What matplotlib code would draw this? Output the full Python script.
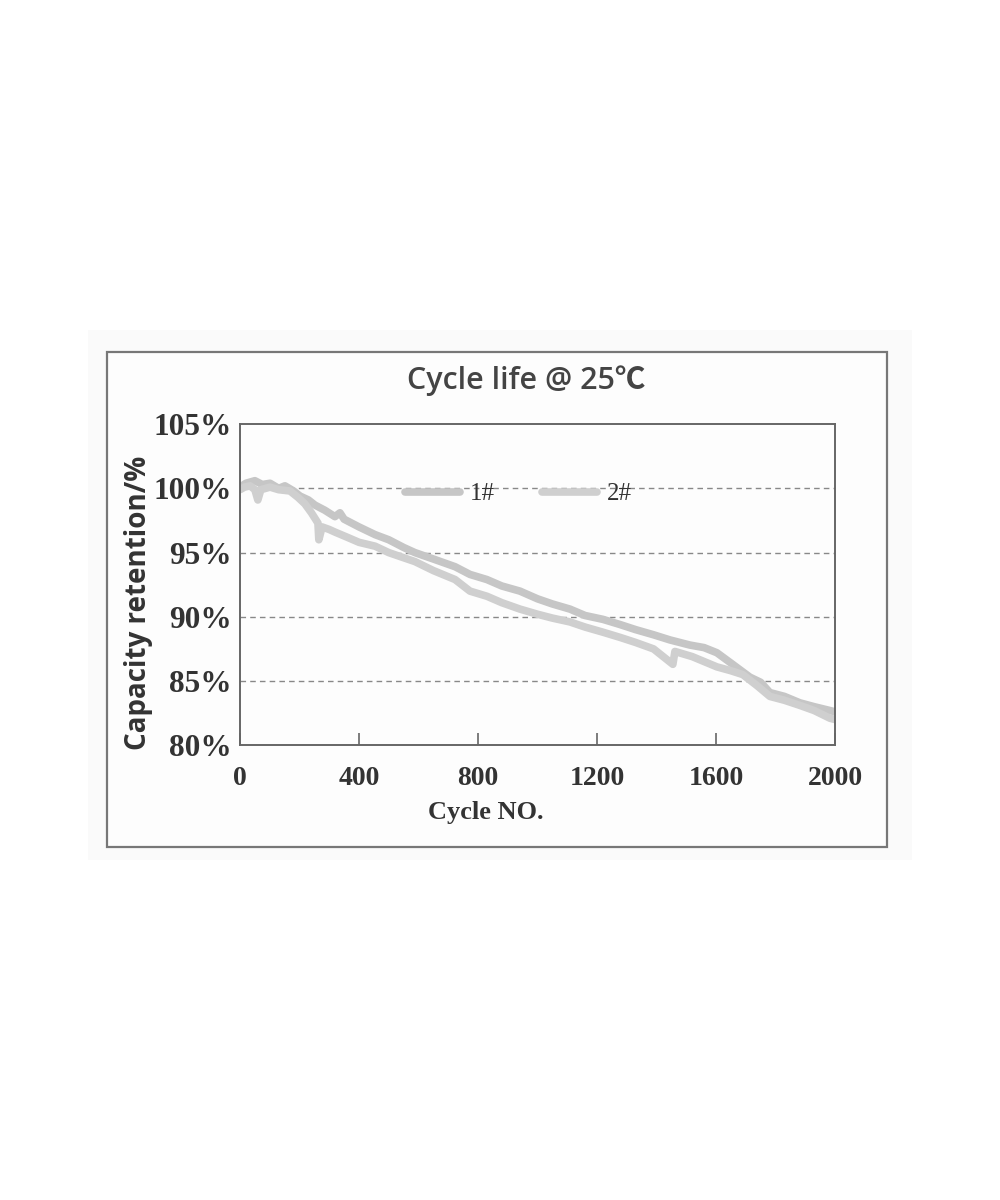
import matplotlib
matplotlib.use("Agg")
import matplotlib.pyplot as plt
from matplotlib.patches import Rectangle

# cycle life data
cycles_1 = [0, 20, 50, 75, 101, 130, 151, 180, 202, 230, 252, 285, 319, 336, 350,
            400, 454, 500, 550, 588, 650, 723, 773, 830, 880, 941, 1000, 1050,
            1109, 1160, 1220, 1277, 1330, 1390, 1445, 1512, 1560, 1603, 1650,
            1714, 1750, 1781, 1830, 1882, 1930, 1983, 2000]
retention_1 = [100.1, 100.4, 100.6, 100.3, 100.4, 100.0, 100.2, 99.8, 99.4, 99.1,
               98.7, 98.3, 97.8, 98.1, 97.6, 97.0, 96.4, 96.0, 95.4, 95.0, 94.5,
               93.9, 93.3, 92.9, 92.4, 92.0, 91.4, 91.0, 90.6, 90.1, 89.8, 89.4,
               89.0, 88.6, 88.2, 87.8, 87.6, 87.2, 86.4, 85.3, 84.9, 84.1, 83.8,
               83.3, 83.0, 82.7, 82.6]

cycles_2 = [0, 15, 34, 50, 60, 70, 101, 130, 168, 195, 218, 240, 262, 265, 276,
            300, 319, 360, 400, 454, 500, 550, 588, 650, 723, 773, 830, 880,
            941, 1000, 1050, 1109, 1160, 1220, 1277, 1330, 1390, 1455, 1462,
            1520, 1603, 1650, 1690, 1740, 1781, 1830, 1882, 1930, 1983, 2000]
retention_2 = [99.9, 100.1, 100.2, 99.9, 99.1, 99.9, 100.1, 99.9, 99.8, 99.3,
               98.8, 98.1, 97.3, 96.0, 97.0, 96.8, 96.6, 96.2, 95.8, 95.5, 95.0,
               94.6, 94.3, 93.6, 92.9, 92.0, 91.6, 91.1, 90.6, 90.2, 89.9, 89.6,
               89.2, 88.8, 88.4, 88.0, 87.5, 86.3, 87.3, 86.9, 86.1, 85.8, 85.5,
               84.6, 83.8, 83.5, 83.1, 82.7, 82.1, 82.0]

x_ticks = [0, 400, 800, 1200, 1600, 2000]
y_ticks = [80, 85, 90, 95, 100, 105]
y_labels = ["80%", "85%", "90%", "95%", "100%", "105%"]

serif = "Liberation Serif"
fig = plt.figure(figsize=(10, 12), dpi=100)
fig.patch.set_facecolor("white")

# faint scan backdrop and outer chart frame
fig.patches.append(Rectangle((0.088, 0.283), 0.824, 0.442, transform=fig.transFigure,
                             facecolor="#fafafa", edgecolor="none", zorder=0))
fig.patches.append(Rectangle((0.107, 0.294), 0.780, 0.413, transform=fig.transFigure,
                             facecolor="#fdfdfd", edgecolor="#777777", linewidth=1.6, zorder=1))

ax = fig.add_axes([0.24, 0.379, 0.595, 0.2675])
ax.set_facecolor("#fdfdfd")
ax.set_zorder(2)

ax.plot(cycles_1, retention_1, color="#c6c6c6", linewidth=5.5, solid_capstyle="round", label="1#")
ax.plot(cycles_2, retention_2, color="#cfcfcf", linewidth=5.5, solid_capstyle="round", label="2#")

ax.set_xlim(0, 2000)
ax.set_ylim(80, 105)
ax.set_xticks(x_ticks)
ax.set_yticks(y_ticks)
ax.set_yticklabels(y_labels)
for y in [85, 90, 95, 100]:
    ax.axhline(y, color="#888888", linestyle=(0, (4, 3)), linewidth=1.0, zorder=0)

ax.tick_params(axis="x", direction="in", length=9, width=1.2, color="#666666", pad=15)
ax.tick_params(axis="y", length=0, pad=6)
for lab in ax.get_xticklabels():
    lab.set_fontfamily(serif)
    lab.set_fontweight("bold")
    lab.set_fontsize(20)
    lab.set_color("#333333")
for lab in ax.get_yticklabels():
    lab.set_fontfamily(serif)
    lab.set_fontweight("bold")
    lab.set_fontsize(22.5)
    lab.set_color("#333333")
for s in ax.spines.values():
    s.set_color("#666666")
    s.set_linewidth(1.4)

ax.set_xlabel("Cycle NO.", fontfamily=serif, fontweight="bold", fontsize=19, color="#333333")
ax.xaxis.set_label_coords(0.413, -0.175)
ax.set_ylabel("Capacity retention/%", fontfamily="Open Sans", fontweight="bold",
              fontsize=20, color="#333333")
ax.yaxis.set_label_coords(-0.171, 0.442)
ax.yaxis.label.set_va("center")
fig.text(0.526, 0.683, "Cycle life @ 25\u2103", ha="center", va="center",
         fontfamily=["Open Sans", "Noto Sans CJK SC", "DejaVu Sans"], fontweight="semibold",
         fontsize=22, color="#444444")

leg = ax.legend(loc="center", bbox_to_anchor=(0.468, 0.782), ncol=2, frameon=False,
                prop={"family": serif, "size": 18}, handlelength=2.2, columnspacing=1.9,
                handletextpad=0.4)
for t in leg.get_texts():
    t.set_color("#333333")

fig.savefig("out.png", dpi=100)
